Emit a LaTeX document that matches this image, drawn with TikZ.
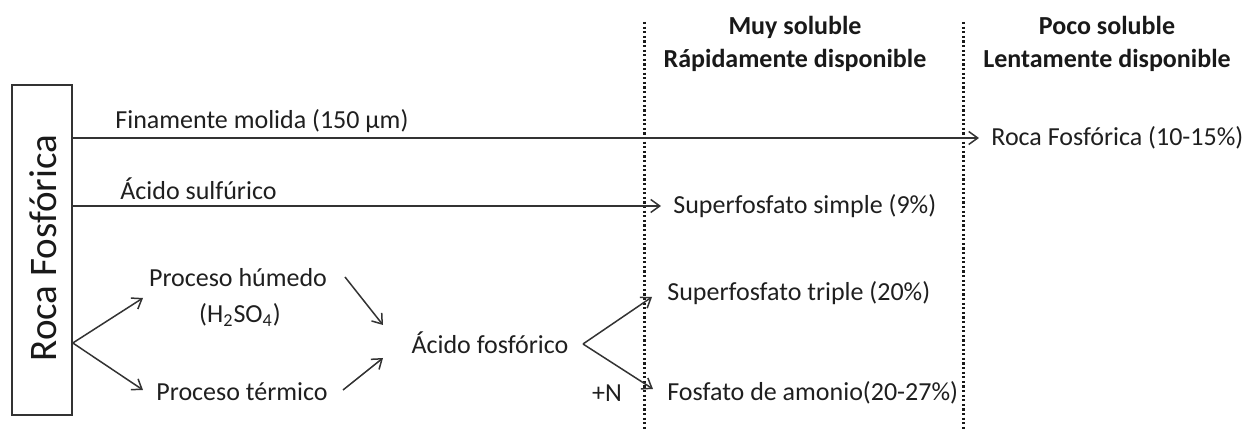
\documentclass[tikz,border=0pt]{standalone}
\usepackage{fontspec}
\setmainfont{Carlito}
\usetikzlibrary{arrows.meta}
\begin{document}
\begin{tikzpicture}[x=0.5pt,y=-0.5pt,
 lbl/.style={font=\fontsize{13}{15}\selectfont, inner sep=0pt, text=black!88},
 hdr/.style={font=\fontsize{13}{16.5}\selectfont\bfseries, align=center, inner sep=0pt, text=black!90},
 arr/.style={-{Straight Barb[length=4.5pt,width=6.5pt]}, line width=0.75pt, draw=black!80},
 dots/.style={line width=1.5pt, dash pattern=on 1.1pt off 1.2pt, draw=black!90}]
\useasboundingbox (0,0) rectangle (1250,431);

% column separators
\draw[dots] (644,22) -- (644,431);
\draw[dots] (963,22) -- (963,431);

% headers
\node[hdr] (h1) at (795,44) {Muy soluble\\Rápidamente disponible};
\node[hdr] (h2) at (1107,44) {Poco soluble\\Lentamente disponible};

% source box
\node[draw=black!80, line width=0.8pt, minimum width=30pt, minimum height=165pt, inner sep=0pt] (box) at (42,250) {};
\node[rotate=90, font=\fontsize{19.5}{22}\selectfont, inner sep=0pt, text=black!90] (rf) at (43,248) {Roca Fosfórica};

% route 1
\node[lbl, anchor=west] (fin) at (115,121) {Finamente molida (150 µm)};
\node[lbl, anchor=west] (rf2) at (991,138) {Roca Fosfórica (10-15\%)};
\draw[arr] (box.east |- rf2.west) -- ([xshift=-6pt]rf2.west);

% route 2
\node[lbl, anchor=west] (as) at (120,189) {Ácido sulfúrico};
\node[lbl, anchor=west] (ss) at (673,206) {Superfosfato simple (9\%)};
\draw[arr] (box.east |- ss.west) -- ([xshift=-6pt]ss.west);

% route 3
\node[lbl] (ph) at (238,278) {Proceso húmedo};
\node[lbl] (hs) at (240,315) {(H\textsubscript{2}SO\textsubscript{4})};
\node[lbl] (pt) at (242,392) {Proceso térmico};
\node[lbl] (af) at (490,343) {Ácido fosfórico};
\node[lbl, anchor=west] (st) at (667,293) {Superfosfato triple (20\%)};
\node[lbl, anchor=west] (fa) at (667,393) {Fosfato de amonio(20-27\%)};
\node[lbl] (n) at (607,393) {+N};

\coordinate (b0) at (box.east |- af);
\coordinate (t1) at (143,298);
\coordinate (t2) at (143,390);
\coordinate (s3) at (345,277);
\coordinate (t3) at (383,325);
\coordinate (s4) at (343,390);
\coordinate (t4) at (383,358);
\coordinate (s5) at (583,344);
\coordinate (t5) at (652,297);
\coordinate (t6) at (653,389);

\draw[arr] (b0) -- (t1);
\draw[arr] (b0) -- (t2);
\draw[arr] (s3) -- (t3);
\draw[arr] (s4) -- (t4);
\draw[arr] (s5) -- (t5);
\draw[arr] (s5) -- (t6);
\end{tikzpicture}
\end{document}
